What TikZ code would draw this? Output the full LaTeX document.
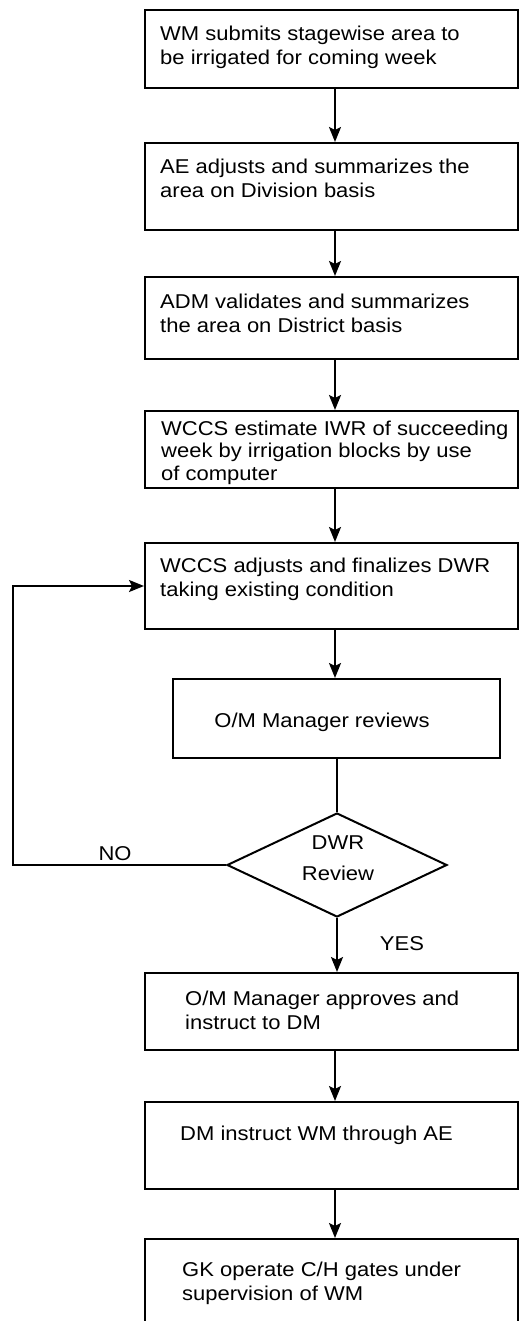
\documentclass[tikz,border=0pt]{standalone}
\usepackage{fontspec}
\setmainfont{Liberation Sans}[FakeStretch=1.1]
\usetikzlibrary{arrows.meta,shapes.geometric}
\begin{document}
\begin{tikzpicture}[x=1pt,y=-1pt,
  box/.style={draw,line width=2pt,rectangle,inner sep=0pt,minimum width=373pt},
  txt/.style={anchor=base west,inner sep=0pt,font=\fontsize{20}{24}\selectfont,align=left},
  ctxt/.style={anchor=base,inner sep=0pt,font=\fontsize{20}{24}\selectfont,align=center},
  conn/.style={line width=2.2pt,-{Stealth[length=15pt,width=12pt,inset=3pt]}},
  plain/.style={line width=2.2pt}]
\useasboundingbox (0,0) rectangle (519,1321);
\clip (0,0) rectangle (519,1321);
% boxes
\node[box,minimum height=78pt] (b1) at (331.5,49) {};
\node[box,minimum height=87pt] (b2) at (331.5,186.5) {};
\node[box,minimum height=82pt] (b3) at (331.5,318) {};
\node[box,minimum height=77pt] (b4) at (331.5,449.5) {};
\node[box,minimum height=86pt] (b5) at (331.5,586) {};
\node[box,minimum width=327pt,minimum height=79pt] (b6) at (336.5,718.5) {};
\node[draw,line width=2pt,shape=diamond,inner sep=0pt,minimum width=220pt,minimum height=104pt] (d) at (337,865) {};
\node[box,minimum height=77pt] (b7) at (331.5,1011.5) {};
\node[box,minimum height=87pt] (b8) at (331.5,1145.5) {};
\node[box,minimum height=96pt] (b9) at (331.5,1287) {};
% texts (base anchor = baseline of last line)
\node[txt] (t1) at (160,65) {WM submits stagewise area to\\be irrigated for coming week};
\node[txt] (t2) at (160,198) {AE adjusts and summarizes the\\area on Division basis};
\node[txt] (t3) at (160,332) {ADM validates and summarizes\\the area on District basis};
\node[txt,font=\fontsize{20}{22.5}\selectfont] (t4) at (161,480) {WCCS estimate IWR of succeeding\\week by irrigation blocks by use\\of computer};
\node[txt] (t5) at (160,596) {WCCS adjusts and finalizes DWR\\taking existing condition};
\node[ctxt] (t6) at (322,727) {O/M Manager reviews};
\node[ctxt,font=\fontsize{20}{31}\selectfont] (td) at (338,880) {DWR\\Review};
\node[txt] (t7) at (185,1029) {O/M Manager approves and\\instruct to DM};
\node[txt] (t8) at (180,1140) {DM instruct WM through AE};
\node[txt] (t9) at (182,1300) {GK operate C/H gates under\\supervision of WM};
\node[ctxt] (no) at (115,860) {NO};
\node[ctxt] (yes) at (402,950) {YES};
% connectors
\coordinate (ax) at (335,0);
\coordinate (lp) at (13,0);
\draw[conn] (b1.south -| ax) -- (b2.north -| ax);
\draw[conn] (b2.south -| ax) -- (b3.north -| ax);
\draw[conn] (b3.south -| ax) -- (b4.north -| ax);
\draw[conn] (b4.south -| ax) -- (b5.north -| ax);
\draw[conn] (b5.south -| ax) -- (b6.north -| ax);
\draw[plain] (b6.south -| d.north) -- (d.north);
\draw[conn] (d.south) -- (d.south |- b7.north);
\draw[conn] (b7.south -| ax) -- (b8.north -| ax);
\draw[conn] (b8.south -| ax) -- (b9.north -| ax);
\draw[conn] (d.west) -- (d.west -| lp) -- (lp |- b5.west) -- (b5.west);
\end{tikzpicture}
\end{document}
